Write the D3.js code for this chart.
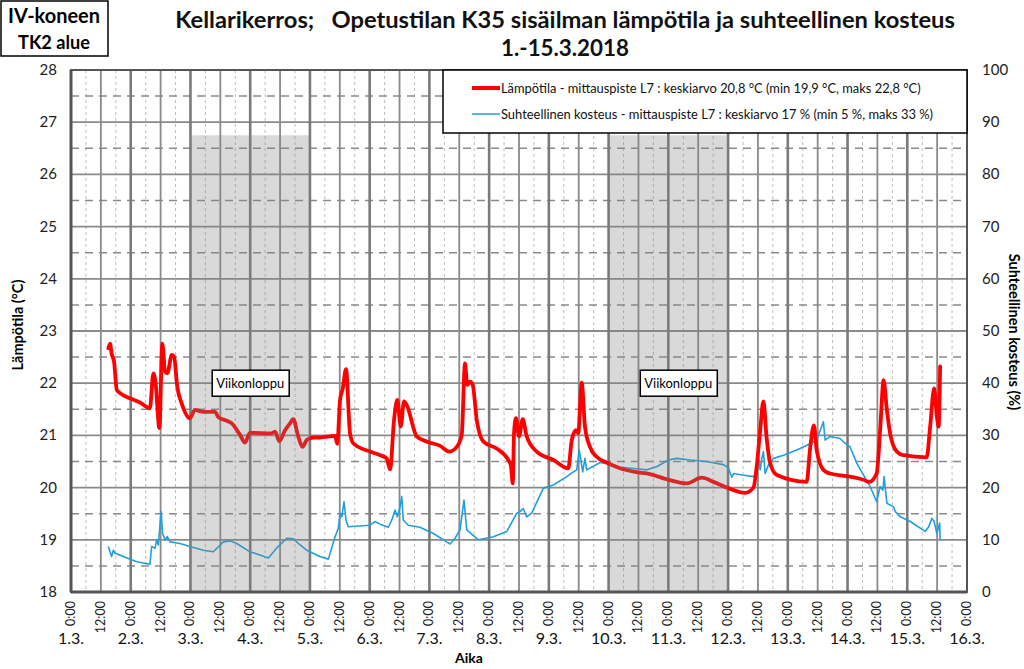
<!DOCTYPE html>
<html><head><meta charset="utf-8">
<script src="https://cdn.jsdelivr.net/npm/d3@7"></script>
<style>
body{margin:0;background:#fff;}
text{font-family:Lato,"Noto Sans",sans-serif;}
</style></head>
<body><svg id="c" width="1024" height="669"></svg>
<script>
// ---- data (hours since 1.3. 0:00) ----
const tempHours = [15.0,15.7,16.3,17.3,18.4,19.7,23.7,27.7,31.7,33.1,34.0,35.5,36.7,37.8,38.7,40.5,41.4,42.7,44.5,47.8,49.8,53.2,57.9,59.2,62.6,64.6,67.9,69.9,71.9,80.6,82.0,83.7,86.0,88.0,89.3,91.3,93.0,94.7,97.4,100,106.1,107.0,108.1,109.2,110.5,112.1,113.4,120.1,124.2,126.8,128.2,129.8,131.1,132.5,133.8,134.9,138.9,143.0,148.3,152.0,155.0,157.0,158.3,159.2,160.3,161.4,163.0,165.7,171.0,175.7,176.7,177.5,178.0,178.8,180.0,181.5,183.1,187.1,193.8,199.8,201.2,202.9,203.8,205.2,206.5,208.5,211.2,215.2,220.6,226.6,232.6,239.3,247.3,253.4,258.1,263.5,270.8,274.2,275.5,276.9,278.2,279.5,280.9,283.6,295.6,296.9,298.5,299.6,302.3,305.0,311.7,318.4,320.8,323.7,325.1,326.5,327.8,329.1,331.8,334.4,343.8,345.2,346.8,347.9,348.6,349.2];
const tempValues = [22.67,22.76,22.57,22.41,21.87,21.81,21.71,21.63,21.52,22.19,22.00,21.14,22.76,22.22,22.19,22.54,22.51,21.93,21.61,21.33,21.49,21.45,21.45,21.35,21.28,21.23,21.01,20.86,21.05,21.04,21.07,20.89,21.10,21.23,21.31,20.98,20.78,20.91,20.96,20.96,20.99,20.84,21.68,21.90,22.27,21.04,20.85,20.69,20.62,20.56,20.35,21.30,21.68,21.17,21.65,21.58,20.98,20.88,20.80,20.69,20.78,21.01,22.38,21.97,22.03,21.97,21.30,20.88,20.75,20.53,20.43,20.08,21.04,21.33,20.98,21.31,20.98,20.69,20.53,20.37,20.91,21.10,21.04,22.01,21.17,20.78,20.59,20.48,20.37,20.30,20.26,20.16,20.08,20.19,20.11,20.00,19.90,20.00,20.40,21.10,21.65,20.95,20.47,20.24,20.11,20.72,21.19,20.72,20.34,20.27,20.22,20.15,20.11,20.27,21.10,22.06,21.49,21.04,20.69,20.62,20.58,21.17,21.90,21.36,21.17,22.32];
const rhHours = [15.0,15.7,16.3,17.0,17.7,21.0,26.4,31.7,32.4,33.8,34.4,35.1,36.2,36.8,37.8,38.7,39.8,43.8,47.8,53.2,57.2,61.2,63.9,66.6,71.9,75.9,79.3,82.6,86.7,89.3,91.3,94.7,100,103.4,106.1,107.4,108.1,108.8,109.7,110.5,111.4,120.1,122.1,124.2,127.5,128.9,130.2,131.1,132.2,132.9,133.5,135.5,140.2,145.6,150.9,152.3,154.3,156.3,157.9,159.0,163.7,169.7,175.1,179.1,180.4,181.7,183.1,185.1,189.8,193.8,199.2,201.8,203.2,204.2,205.6,206.5,207.2,212.6,216.6,220.6,227.3,231.3,235.3,240.0,243.4,248.7,255.4,262.1,264.1,265.5,266.3,269.7,274.2,275.5,276.2,276.9,277.6,278.2,278.9,280.2,282.2,286.3,291.6,297.0,299.6,302.3,303.0,305.0,309.0,311.0,313.0,315.7,321.1,323.7,325.1,326.2,326.7,327.8,330.5,331.2,333.2,337.2,343.2,344.6,345.9,346.8,347.9,349.0,349.2];
const rhValues = [8.7,7.7,6.8,8.0,7.4,6.8,5.8,5.3,8.7,8.4,10.0,9.0,15.4,11.2,10.0,10.6,9.6,9.3,8.7,8.0,7.7,9.6,9.8,9.3,7.7,7.1,6.5,8.4,10.3,10.2,9.3,8.0,6.8,6.3,10.6,12.2,15.1,14.4,17.3,13.8,12.5,12.8,13.5,13.0,12.4,13.8,15.7,14.4,16.3,18.3,13.8,12.8,12.4,11.2,9.6,9.2,10.3,11.9,17.6,11.9,10.0,10.6,11.6,15.1,15.4,16.0,14.4,15.1,19.9,20.5,22.1,23.0,23.4,27.2,23.0,25.6,23.4,24.8,24.5,23.9,23.6,23.4,24.0,25.3,25.6,25.3,25.0,24.4,23.8,22.0,22.7,22.4,22.1,23.0,26.2,23.4,25.6,26.9,22.7,24.3,25.6,26.2,27.2,28.4,29.1,32.6,29.1,29.8,29.4,28.5,27.8,24.7,20.2,17.3,20.2,19.5,22.1,17.0,16.3,15.4,14.4,13.5,11.6,12.5,14.1,13.5,11.2,13.2,10.0];
const dateLabels = ["1.3.","2.3.","3.3.","4.3.","5.3.","6.3.","7.3.","8.3.","9.3.","10.3.","11.3.","12.3.","13.3.","14.3.","15.3.","16.3."];
const timeLabels = ["0:00","12:00"];
const tempTicks = [18,19,20,21,22,23,24,25,26,27,28];
const rhTicks = [0,10,20,30,40,50,60,70,80,90,100];
const weekendStart = [48, 216];   // hours
const weekendEnd = [96, 264];
const weekendTop = 26.75;
const weekendLabelHour = [72, 244];
const weekendLabelTemp = 22;
const titleLines = ["Kellarikerros;   Opetustilan K35 sisäilman lämpötila ja suhteellinen kosteus","1.-15.3.2018"];
const boxLines = ["IV-koneen","TK2 alue"];
const legendLabels = ["Lämpötila - mittauspiste L7 : keskiarvo 20,8 °C (min 19,9 °C, maks 22,8 °C)","Suhteellinen kosteus - mittauspiste L7 : keskiarvo 17 % (min 5 %, maks 33 %)"];

// ---- layout ----
const L=71,R=967,T=70,B=592;
const svg=d3.select("#c");
const x=d3.scaleLinear().domain([0,360]).range([L,R]);
const yT=d3.scaleLinear().domain([18,28]).range([B,T]);
const yH=d3.scaleLinear().domain([0,100]).range([B,T]);
const red="#ff0000", blue="#1f9fdc";

function fit(sel,w){const n=sel.node();const cur=n.getComputedTextLength();const fs=parseFloat(sel.attr("font-size"));sel.attr("font-size",(fs*w/cur).toFixed(2));}

// gridlines
const g=svg.append("g");
g.selectAll("line.v6").data(d3.range(6,360,12)).join("line")
 .attr("x1",d=>x(d)).attr("x2",d=>x(d)).attr("y1",T).attr("y2",B)
 .attr("stroke","#bdbdbd").attr("stroke-width",1).attr("stroke-dasharray","3,3");
g.selectAll("line.h5").data(d3.range(18.5,28,1)).join("line")
 .attr("x1",L).attr("x2",R).attr("y1",d=>yT(d)).attr("y2",d=>yT(d))
 .attr("stroke","#8a8a8a").attr("stroke-width",1.5).attr("stroke-dasharray","8,6");
g.selectAll("line.h").data(tempTicks).join("line")
 .attr("x1",L).attr("x2",R).attr("y1",d=>yT(d)).attr("y2",d=>yT(d))
 .attr("stroke","#8a8a8a").attr("stroke-width",1.8);
g.selectAll("line.v12").data(d3.range(12,360,24)).join("line")
 .attr("x1",d=>x(d)).attr("x2",d=>x(d)).attr("y1",T).attr("y2",B)
 .attr("stroke","#8a8a8a").attr("stroke-width",1.8);
g.selectAll("line.v24").data(d3.range(24,360,24)).join("line")
 .attr("x1",d=>x(d)).attr("x2",d=>x(d)).attr("y1",T).attr("y2",B)
 .attr("stroke","#7a7a7a").attr("stroke-width",2.6);

// series
const tData=tempHours.map((h,i)=>[h,tempValues[i]]);
const hData=rhHours.map((h,i)=>[h,rhValues[i]]);
svg.append("path").datum(hData).attr("fill","none").attr("stroke",blue).attr("stroke-width",1.6)
 .attr("stroke-linejoin","round").attr("d",d3.line().x(d=>x(d[0])).y(d=>yH(d[1])));
svg.append("path").datum(tData).attr("fill","none").attr("stroke",red).attr("stroke-width",3.8)
 .attr("stroke-linejoin","round").attr("stroke-linecap","round")
 .attr("d",d3.line().curve(d3.curveMonotoneX).x(d=>x(d[0])).y(d=>yT(d[1])));

// weekend shading (overlaid, translucent)
svg.selectAll("rect.wk").data(weekendStart).join("rect")
 .attr("x",d=>x(d)).attr("width",(d,i)=>x(weekendEnd[i])-x(d))
 .attr("y",yT(weekendTop)).attr("height",B-yT(weekendTop))
 .attr("fill","#808080").attr("fill-opacity",0.3);

// weekend labels
weekendLabelHour.forEach(h=>{
  const cx=x(h), cy=yT(weekendLabelTemp);
  svg.append("rect").attr("x",cx-38).attr("y",cy-13).attr("width",77).attr("height",26)
    .attr("fill","#fff").attr("stroke","#000").attr("stroke-width",1.5);
  const t=svg.append("text").attr("x",cx).attr("y",cy+5).attr("text-anchor","middle").attr("font-size",14).attr("fill","#000").text("Viikonloppu");
  fit(t,68);
});

// plot frame
svg.append("rect").attr("x",L).attr("y",T).attr("width",R-L).attr("height",B-T)
 .attr("fill","none").attr("stroke","#555").attr("stroke-width",2);
svg.append("line").attr("x1",L).attr("x2",R).attr("y1",B).attr("y2",B).attr("stroke","#555").attr("stroke-width",3);
svg.append("line").attr("x1",L).attr("x2",L).attr("y1",T).attr("y2",B).attr("stroke","#555").attr("stroke-width",3);

// left axis labels
svg.append("g").selectAll("text").data(tempTicks).join("text")
 .attr("x",57).attr("y",d=>yT(d)+5).attr("text-anchor","end").attr("font-size",15).attr("fill","#222").text(d=>d);
// right axis labels
svg.append("g").selectAll("text").data(rhTicks).join("text")
 .attr("x",982).attr("y",d=>yH(d)+5).attr("text-anchor","start").attr("font-size",15).attr("fill","#222").text(d=>d);

// bottom time labels
svg.append("g").selectAll("text").data(d3.range(0,361,12)).join("text")
 .attr("transform",d=>`translate(${x(d)+4},601) rotate(-90)`).attr("text-anchor","end")
 .attr("font-size",12.5).attr("fill","#222").text((d,i)=>timeLabels[i%2]);
svg.append("g").selectAll("text").data(dateLabels).join("text")
 .attr("x",(d,i)=>x(i*24)).attr("y",644).attr("text-anchor","middle").attr("font-size",16).attr("fill","#111").text(d=>d);

// axis titles
svg.append("text").attr("x",469).attr("y",663).attr("text-anchor","middle").attr("font-size",14).attr("font-weight","bold").text("Aika");
svg.append("text").attr("transform","translate(23,325) rotate(-90)").attr("text-anchor","middle").attr("font-size",14.5).attr("font-weight","bold").text("Lämpötila (°C)");
svg.append("text").attr("transform","translate(1009,332) rotate(90)").attr("text-anchor","middle").attr("font-size",14.5).attr("font-weight","bold").text("Suhteellinen kosteus (%)");

// title
const t1=svg.append("text").attr("x",565).attr("y",28).attr("text-anchor","middle").attr("font-size",21).attr("font-weight","bold").attr("fill","#111").attr("xml:space","preserve").style("white-space","pre").text(titleLines[0]);
fit(t1,780);
const t2=svg.append("text").attr("x",565).attr("y",56).attr("text-anchor","middle").attr("font-size",21).attr("font-weight","bold").attr("fill","#111").text(titleLines[1]);
fit(t2,128);

// corner box
svg.append("rect").attr("x",1).attr("y",1).attr("width",107).attr("height",55).attr("fill","#fff").attr("stroke","#000").attr("stroke-width",1.5);
boxLines.forEach((s,i)=>{const t=svg.append("text").attr("x",54).attr("y",23+i*26).attr("text-anchor","middle").attr("font-size",19).attr("font-weight","bold").text(s);fit(t,i?72:92);});

// legend
svg.append("rect").attr("x",443).attr("y",T).attr("width",R-443).attr("height",63).attr("fill","#fff").attr("stroke","#000").attr("stroke-width",1.5);
const lc=[red,blue], lw=[4,1.5];
legendLabels.forEach((s,i)=>{
  const yy=88+i*26;
  svg.append("line").attr("x1",472).attr("x2",500).attr("y1",yy).attr("y2",yy).attr("stroke",lc[i]).attr("stroke-width",lw[i]);
  const t=svg.append("text").attr("x",501).attr("y",yy+5).attr("font-size",13).attr("fill","#111").text(s);
  fit(t,i?432:420);
});
</script></body></html>
